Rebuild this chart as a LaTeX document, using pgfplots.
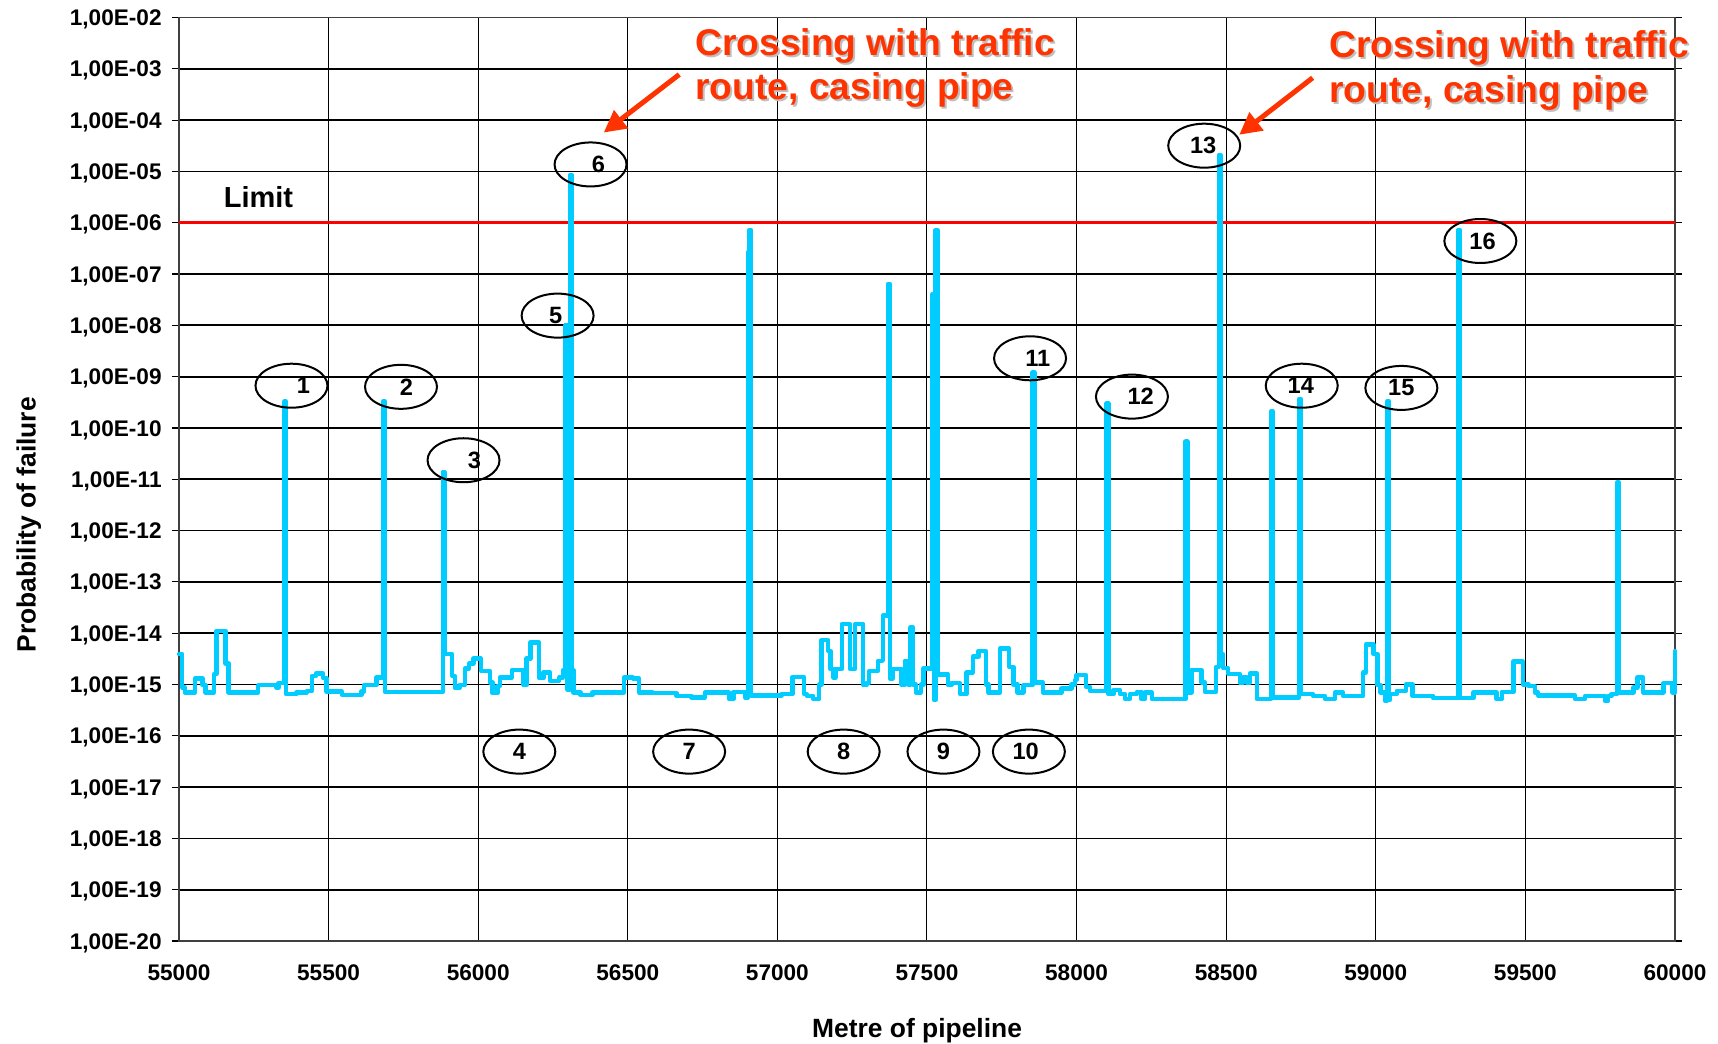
\documentclass[border=0pt]{standalone}
\usepackage{fontspec}
\setmainfont{Liberation Sans}
\usepackage{pgfplots}
\pgfplotsset{compat=1.18}
\usetikzlibrary{arrows.meta}
\definecolor{cyanline}{HTML}{00CCFF}
\definecolor{redtxt}{HTML}{FF3300}
\newcommand{\ellab}[4]{%
  \draw[black, line width=1pt] (axis description cs:#1,#2) ellipse [x radius=18pt, y radius=11pt];
  \node[font=\fontsize{11.8}{13}\selectfont\bfseries, xshift=#4] at (axis description cs:#1,#2) {#3};}
\newcommand{\redtext}[3]{%
  \node[anchor=base west, inner sep=0pt, text=black!25, xshift=1pt, yshift=-1pt, font=\fontsize{18.6}{20}\selectfont\bfseries] at (axis description cs:#1,#2) {Crossing with traffic};
  \node[anchor=base west, inner sep=0pt, text=black!25, xshift=1pt, yshift=-1pt, font=\fontsize{18.6}{20}\selectfont\bfseries] at (axis description cs:#1,#3) {route, casing pipe};
  \node[anchor=base west, inner sep=0pt, text=redtxt, font=\fontsize{18.6}{20}\selectfont\bfseries] at (axis description cs:#1,#2) {Crossing with traffic};
  \node[anchor=base west, inner sep=0pt, text=redtxt, font=\fontsize{18.6}{20}\selectfont\bfseries] at (axis description cs:#1,#3) {route, casing pipe};}
\begin{document}
\begin{tikzpicture}
\begin{axis}[
  scale only axis, width=748pt, height=461.75pt,
  xmin=55000, xmax=60000, ymode=log, ymin=1e-20, ymax=1e-2,
  clip=false, scaled x ticks=false,
  xtick={55000,55500,56000,56500,57000,57500,58000,58500,59000,59500,60000},
  xticklabels={55000,55500,56000,56500,57000,57500,58000,58500,59000,59500,60000},
  ytick={1e-20,1e-19,1e-18,1e-17,1e-16,1e-15,1e-14,1e-13,1e-12,1e-11,1e-10,1e-9,1e-8,1e-7,1e-6,1e-5,1e-4,1e-3,1e-2},
  yticklabels={{1,00E-20},{1,00E-19},{1,00E-18},{1,00E-17},{1,00E-16},{1,00E-15},{1,00E-14},{1,00E-13},{1,00E-12},{1,00E-11},{1,00E-10},{1,00E-09},{1,00E-08},{1,00E-07},{1,00E-06},{1,00E-05},{1,00E-04},{1,00E-03},{1,00E-02}},
  yminorticks=false,
  grid=major,
  x grid style={black, line width=0.5pt},
  y grid style={black, line width=0.85pt},
  axis line style={black!75, line width=0.6pt},
  tick align=outside, major tick length=3.5pt,
  xtick style={draw=none},
  ytick style={black, line width=0.6pt},
  ticklabel style={font=\fontsize{11.3}{13}\selectfont\bfseries, inner sep=0pt},
  yticklabel style={anchor=base east, yshift=-4.05pt, xshift=-5pt},
  xticklabel style={anchor=base, yshift=-16pt},
]
\addplot[red, line width=1.5pt] coordinates {(55000,1e-6) (60000,1e-6)};
\addplot[cyanline, line width=2.2pt, const plot mark left, line join=round, line cap=round] coordinates {
(55000,3.9e-15) (55011,8.7e-16) (55020,7.0e-16) (55053,1.31e-15) (55079,9.7e-16) (55089,7.0e-16)
(55117,1.6e-15) (55126,1.11e-14) (55156,2.56e-15) (55166,7.0e-16) (55265,9.7e-16) (55326,8.7e-16)
(55333,1.06e-15) (55352,3.3e-10) (55357,6.5e-16) (55393,7.0e-16) (55427,7.5e-16) (55444,1.47e-15)
(55458,1.64e-15) (55482,1.33e-15) (55493,7.3e-16) (55544,6.3e-16) (55610,7.3e-16) (55619,9.8e-16)
(55660,1.37e-15) (55682,3.3e-10) (55688,7.2e-16) (55882,1.4e-11) (55887,3.9e-15) (55913,1.47e-15)
(55922,8.5e-16) (55937,9.7e-16) (55956,2.05e-15) (55970,2.56e-15) (55984,3.2e-15) (56009,1.85e-15)
(56039,1.1e-15) (56048,6.8e-16) (56064,9.4e-16) (56073,1.37e-15) (56112,1.9e-15) (56151,9.8e-16)
(56162,3.2e-15) (56175,6.6e-15) (56204,1.33e-15) (56218,1.72e-15) (56240,1.18e-15) (56271,1.37e-15)
(56283,1.9e-15) (56291,1e-8) (56298,8e-16) (56307,8.6e-6) (56313,1.9e-15) (56318,7.0e-16)
(56342,6.3e-16) (56382,7.0e-16) (56487,1.37e-15) (56518,1.31e-15) (56538,7.0e-16) (56583,6.8e-16)
(56663,6.0e-16) (56713,5.6e-16) (56758,7.0e-16) (56839,5.2e-16) (56853,7.2e-16) (56892,5.6e-16)
(56902,2.7e-7) (56906,7.2e-7) (56912,6.1e-16) (57014,6.5e-16) (57051,1.4e-15) (57089,6.5e-16)
(57098,6.0e-16) (57120,5.2e-16) (57140,1.0e-15) (57148,7.3e-15) (57170,4.5e-15) (57178,2.0e-15)
(57187,1.37e-15) (57194,2.0e-15) (57215,1.5e-14) (57243,2.0e-15) (57259,1.5e-14) (57287,9.7e-16)
(57298,1.06e-15) (57307,1.85e-15) (57337,2.9e-15) (57352,2.2e-14) (57370,6.4e-8) (57376,1.3e-15)
(57385,2.0e-15) (57415,1.0e-15) (57426,2.9e-15) (57438,1.0e-15) (57445,1.29e-14) (57454,1.0e-15)
(57463,7.0e-16) (57479,1.0e-15) (57488,2.05e-15) (57517,4e-8) (57524,5e-16) (57529,7.2e-7)
(57535,1.58e-15) (57571,9.7e-16) (57582,1.06e-15) (57610,6.5e-16) (57632,1.7e-15) (57653,3.5e-15)
(57672,4.5e-15) (57697,1.0e-15) (57705,7.0e-16) (57744,5.0e-15) (57775,2.2e-15) (57789,1.0e-15)
(57802,7.0e-16) (57822,9.7e-16) (57853,1.2e-9) (57859,1.1e-15) (57887,7.0e-16) (57950,8.4e-16)
(57983,1.0e-15) (57995,1.23e-15) (58000,1.54e-15) (58031,9e-16) (58045,7.5e-16) (58100,3e-10)
(58106,6.5e-16) (58123,7.8e-16) (58145,6.5e-16) (58162,5.2e-16) (58178,6.5e-16) (58201,7.2e-16)
(58217,5.2e-16) (58229,7.0e-16) (58251,5.2e-16) (58364,5.4e-11) (58370,7.0e-16) (58384,1.9e-15)
(58418,1.1e-15) (58429,7.2e-16) (58466,2.2e-15) (58475,2.1e-5) (58481,3.9e-15) (58490,2.1e-15)
(58507,1.6e-15) (58546,1.06e-15) (58557,1.4e-15) (58568,1.1e-15) (58579,1.64e-15) (58602,5.2e-16)
(58650,2.1e-10) (58656,5.6e-16) (58744,3.7e-10) (58750,6.5e-16) (58791,6.0e-16) (58830,5.2e-16)
(58863,7.0e-16) (58891,6.0e-16) (58958,1.7e-15) (58967,6e-15) (58992,3.9e-15) (59005,9.7e-16)
(59016,7.0e-16) (59031,4.8e-16) (59038,3.3e-10) (59044,5e-16) (59047,6.5e-16) (59070,7.5e-16)
(59101,1.0e-15) (59123,6.0e-16) (59192,5.4e-16) (59275,7.2e-7) (59281,5.4e-16) (59326,7.0e-16)
(59404,5.2e-16) (59421,7.2e-16) (59460,2.8e-15) (59491,1.0e-15) (59510,9.4e-16) (59532,7.0e-16)
(59543,6.1e-16) (59666,5.2e-16) (59699,6.0e-16) (59766,4.8e-16) (59777,6.0e-16) (59788,6.5e-16)
(59806,8.7e-12) (59812,7.0e-16) (59861,8.7e-16) (59874,1.37e-15) (59894,7.0e-16) (59961,1.06e-15)
(59992,7.0e-16) (60000,4.5e-15)
};
\ellab{0.0752}{0.6013}{1}{6pt}
\ellab{0.1484}{0.6001}{2}{2.7pt}
\ellab{0.1902}{0.5206}{3}{5.5pt}
\ellab{0.2275}{0.2051}{4}{0pt}
\ellab{0.2531}{0.6772}{5}{-1pt}
\ellab{0.2751}{0.8409}{6}{3.9pt}
\ellab{0.3410}{0.2051}{7}{0pt}
\ellab{0.4443}{0.2051}{8}{0pt}
\ellab{0.5110}{0.2051}{9}{0pt}
\ellab{0.5681}{0.2051}{10}{-1.6pt}
\ellab{0.5689}{0.6310}{11}{3.9pt}
\ellab{0.6370}{0.5895}{12}{4.4pt}
\ellab{0.6853}{0.8612}{13}{-0.5pt}
\ellab{0.7505}{0.6013}{14}{-0.5pt}
\ellab{0.8171}{0.5989}{15}{0pt}
\ellab{0.8699}{0.7580}{16}{1.1pt}
\node[anchor=west, inner sep=0pt, font=\fontsize{14.5}{16}\selectfont\bfseries] at (axis description cs:0.0297,0.8056) {Limit};
\redtext{0.3449}{0.9594}{0.9107}
\redtext{0.7687}{0.9572}{0.9085}
\draw[redtxt, line width=2.5pt, -{Triangle[length=11pt,width=11pt]}] (axis description cs:0.3344,0.9383) -- (axis description cs:0.2839,0.8754);
\draw[redtxt, line width=2.5pt, -{Triangle[length=11pt,width=11pt]}] (axis description cs:0.7578,0.9347) -- (axis description cs:0.7087,0.8730);
\node[anchor=base, inner sep=0pt, font=\fontsize{13.2}{15}\selectfont\bfseries] at (axis description cs:0.4934,-0.104) {Metre of pipeline};
\node[anchor=base, rotate=90, inner sep=0pt, font=\fontsize{13.2}{15}\selectfont\bfseries] at (axis description cs:-0.0959,0.4507) {Probability of failure};
\coordinate (bbl) at (axis description cs:-0.11965,-0.11045);
\coordinate (btr) at (axis description cs:1.02874,1.01895);
\end{axis}
\path (bbl) rectangle (btr);
\end{tikzpicture}
\end{document}
